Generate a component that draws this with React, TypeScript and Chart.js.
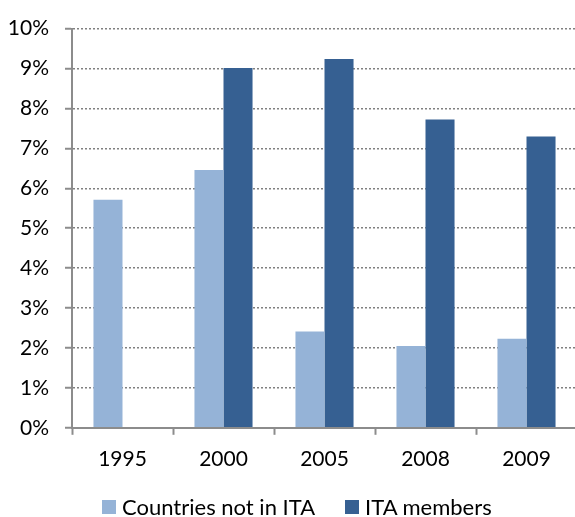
import React, { useEffect, useRef } from "react";
import { Chart, registerables } from "chart.js";

Chart.register(...registerables);

const categories = ["1995", "2000", "2005", "2008", "2009"];
const notInIta = [5.71, 6.46, 2.41, 2.05, 2.23];
const itaMembers = [null, 9.01, 9.24, 7.72, 7.3];
const seriesNames = ["Countries not in ITA", "ITA members"];
const seriesColors = ["#95B3D7", "#366092"];

const FONT = "Lato, 'Noto Sans', sans-serif";

export default function App() {
  const ref = useRef<HTMLCanvasElement | null>(null);

  useEffect(() => {
    if (!ref.current) return;
    const chart = new Chart(ref.current, {
      type: "bar",
      data: {
        labels: categories,
        datasets: [
          {
            label: seriesNames[0],
            data: notInIta,
            backgroundColor: seriesColors[0],
            categoryPercentage: 0.575,
            barPercentage: 1,
          },
          {
            label: seriesNames[1],
            data: itaMembers as any,
            backgroundColor: seriesColors[1],
            categoryPercentage: 0.575,
            barPercentage: 1,
          },
        ],
      },
      options: {
        responsive: false,
        animation: false,
        devicePixelRatio: 1,
        layout: { padding: { left: 0, right: 3, top: 25, bottom: 33 } },
        plugins: {
          legend: { display: false },
          tooltip: { enabled: false },
        },
        scales: {
          x: {
            grid: {
              offset: true,
              drawOnChartArea: false,
              drawTicks: true,
              tickLength: 7,
              tickColor: "#8c8c8c",
              tickWidth: 2,
            },
            border: { display: true, color: "#8c8c8c", width: 2 },
            ticks: {
              color: "#000",
              font: { family: FONT, size: 21 },
              padding: 12,
            },
          },
          y: {
            min: 0,
            max: 10,
            afterFit: (scale: any) => {
              scale.width = 72;
            },
            grid: {
              color: "#808080",
              lineWidth: 1.5,
              drawTicks: true,
              tickLength: 7,
              tickColor: "#8c8c8c",
              tickWidth: 2,
              tickBorderDash: [],
            },
            border: {
              display: true,
              color: "#8c8c8c",
              width: 2,
              dash: [2, 2],
            },
            ticks: {
              stepSize: 1,
              color: "#000",
              font: { family: FONT, size: 21 },
              padding: 16,
              callback: (v: any) => v + "%",
            },
          },
        },
      },
    });
    return () => chart.destroy();
  }, []);

  const legendItem = (i: number) => (
    <div style={{ display: "flex", alignItems: "center" }}>
      <span
        style={{
          display: "inline-block",
          width: 14,
          height: 14,
          background: seriesColors[i],
          marginRight: 6,
        }}
      />
      <span>{seriesNames[i]}</span>
    </div>
  );

  return (
    <div
      style={{
        position: "fixed",
        left: 0,
        top: 0,
        width: 575,
        height: 517,
        overflow: "hidden",
        background: "#fff",
      }}
    >
      <canvas ref={ref} width={580} height={517} style={{ display: "block" }} />
      <div
        style={{
          position: "absolute",
          left: 102,
          top: 496,
          display: "flex",
          gap: 30,
          fontFamily: FONT,
          fontSize: 22,
          lineHeight: "22px",
          color: "#000",
          whiteSpace: "nowrap",
        }}
      >
        {legendItem(0)}
        {legendItem(1)}
      </div>
    </div>
  );
}
